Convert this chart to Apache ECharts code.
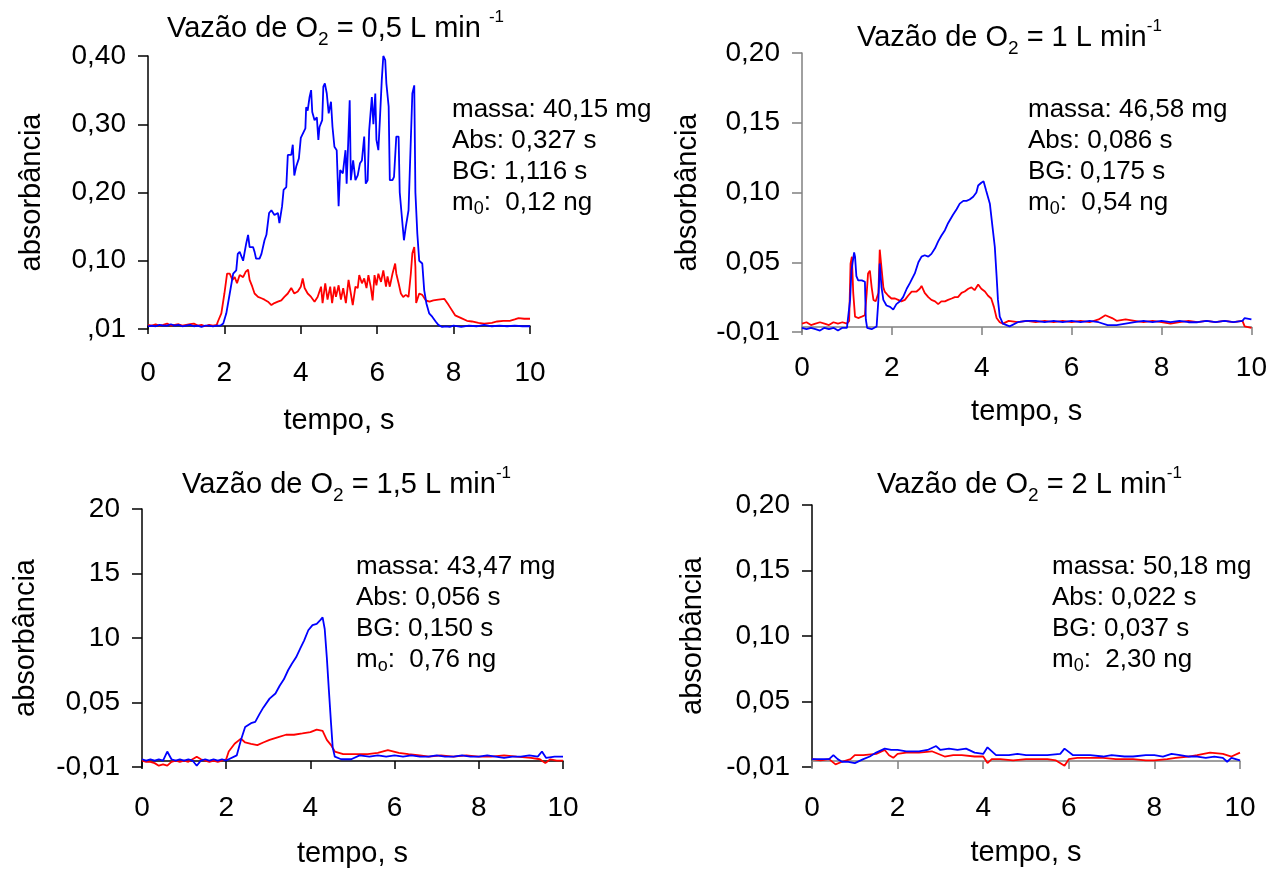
<!DOCTYPE html>
<html><head><meta charset="utf-8">
<script src="https://cdn.jsdelivr.net/npm/echarts@6/dist/echarts.min.js"></script>
<style>html,body{margin:0;padding:0;background:#fff}#c{width:1270px;height:869px}</style>
</head><body><div id="c"></div>
<script>
// ---------- tick labels ----------
const xTickLabels = ['0', '2', '4', '6', '8', '10'];
const yLabels1 = [',01', '0,10', '0,20', '0,30', '0,40'];
const yLabels2 = ['-0,01', '0,05', '0,10', '0,15', '0,20'];
const yLabels3 = ['-0,01', '0,05', '10', '15', '20'];
const yLabels4 = ['-0,01', '0,05', '0,10', '0,15', '0,20'];

// ---------- titles / annotations ----------
const titles = [
  'Vazão de O{sub|2} = 0,5 L min {sup|-1}',
  'Vazão de O{sub|2} = 1 L min{sup|-1}',
  'Vazão de O{sub|2} = 1,5 L min{sup|-1}',
  'Vazão de O{sub|2} = 2 L min{sup|-1}'
];
const info1 = ['massa: 40,15 mg', 'Abs: 0,327 s', 'BG: 1,116 s', 'm{sub|0}:  0,12 ng'];
const info2 = ['massa: 46,58 mg', 'Abs: 0,086 s', 'BG: 0,175 s', 'm{sub|0}:  0,54 ng'];
const info3 = ['massa: 43,47 mg', 'Abs: 0,056 s', 'BG: 0,150 s', 'm{sub|o}:  0,76 ng'];
const info4 = ['massa: 50,18 mg', 'Abs: 0,022 s', 'BG: 0,037 s', 'm{sub|0}:  2,30 ng'];

// ---------- panel 1 (0,5 L/min) ----------
const p1BlueT = [0,0.1,0.2,0.3,0.4,0.5,0.6,0.7,0.8,0.9,1.0,1.1,1.2,1.3,1.4,1.5,1.6,1.7,1.8,1.9,
  1.97,2.05,2.14,2.23,2.31,2.35,2.4,2.49,2.57,2.62,2.66,2.75,2.79,2.83,2.92,2.97,3.05,3.1,3.17,3.23,
  3.31,3.4,3.44,3.51,3.55,3.62,3.66,3.75,3.79,3.83,3.88,3.95,4.0,4.05,4.12,4.14,4.18,4.23,4.27,4.3,
  4.36,4.42,4.46,4.49,4.56,4.59,4.63,4.68,4.73,4.79,4.83,4.88,4.94,4.99,5.03,5.1,5.17,5.2,5.24,5.28,
  5.31,5.37,5.43,5.49,5.55,5.6,5.66,5.7,5.75,5.79,5.86,5.9,5.95,5.98,6.03,6.07,6.12,6.16,6.21,6.24,
  6.3,6.33,6.4,6.44,6.5,6.56,6.59,6.66,6.7,6.75,6.82,6.88,6.92,6.97,7.0,7.05,7.1,7.18,7.23,7.29,
  7.36,7.44,7.53,7.6,7.7,7.8,7.9,8.0,8.2,8.4,8.6,8.8,9.0,9.2,9.4,9.6,9.8,10];
const p1BlueV = [0.004,0.005,0.004,0.006,0.005,0.005,0.007,0.005,0.006,0.004,0.005,0.006,0.004,0.005,0.003,0.005,0.005,0.004,0.005,0.005,
  0.008,0.023,0.052,0.081,0.086,0.11,0.113,0.10,0.125,0.138,0.12,0.12,0.113,0.103,0.103,0.11,0.13,0.138,0.17,0.174,
  0.167,0.17,0.155,0.18,0.204,0.208,0.255,0.255,0.27,0.225,0.238,0.25,0.28,0.282,0.294,0.325,0.32,0.34,0.35,0.318,
  0.306,0.31,0.277,0.296,0.306,0.355,0.36,0.345,0.316,0.333,0.296,0.267,0.262,0.18,0.233,0.228,0.262,0.213,0.272,0.335,
  0.218,0.247,0.218,0.225,0.243,0.247,0.282,0.213,0.218,0.291,0.34,0.30,0.345,0.277,0.262,0.306,0.365,0.40,0.394,0.36,
  0.326,0.218,0.218,0.223,0.282,0.282,0.20,0.155,0.13,0.15,0.174,0.277,0.345,0.357,0.20,0.14,0.10,0.096,0.057,0.037,
  0.023,0.018,0.011,0.006,0.003,0.004,0.003,0.005,0.003,0.005,0.004,0.006,0.004,0.005,0.004,0.005,0.004,0.004];
const p1RedT = [0,0.1,0.2,0.3,0.4,0.5,0.6,0.7,0.8,0.9,1.0,1.1,1.2,1.3,1.4,1.5,1.6,1.7,1.8,
  1.83,1.92,2.0,2.07,2.14,2.21,2.27,2.33,2.4,2.49,2.56,2.62,2.66,2.73,2.79,2.88,2.97,3.05,3.14,3.23,
  3.31,3.4,3.49,3.57,3.66,3.75,3.83,3.92,4.0,4.05,4.1,4.18,4.27,4.36,4.44,4.53,4.57,4.64,4.7,4.77,
  4.82,4.88,4.92,4.99,5.05,5.11,5.18,5.25,5.31,5.36,5.43,5.49,5.53,5.6,5.66,5.72,5.77,5.83,5.88,5.93,
  5.98,6.03,6.1,6.16,6.23,6.27,6.33,6.4,6.47,6.5,6.56,6.62,6.68,6.75,6.82,6.88,6.92,6.97,7.0,7.02,
  7.1,7.18,7.27,7.37,7.47,7.6,7.76,7.87,8.04,8.2,8.35,8.48,8.65,8.8,9.0,9.14,9.3,9.47,9.6,9.7,9.85,10];
const p1RedV = [0.006,0.005,0.007,0.005,0.006,0.008,0.005,0.006,0.007,0.005,0.006,0.007,0.008,0.005,0.006,0.004,0.006,0.005,0.006,
  0.011,0.023,0.052,0.081,0.081,0.072,0.076,0.067,0.079,0.076,0.084,0.087,0.072,0.062,0.052,0.047,0.045,0.043,0.04,0.035,
  0.038,0.04,0.042,0.047,0.052,0.06,0.052,0.055,0.062,0.074,0.06,0.052,0.047,0.04,0.047,0.062,0.038,0.067,0.043,0.062,
  0.038,0.062,0.047,0.064,0.043,0.06,0.038,0.072,0.052,0.035,0.062,0.06,0.079,0.067,0.074,0.06,0.079,0.062,0.042,0.079,
  0.064,0.081,0.069,0.086,0.062,0.077,0.062,0.081,0.096,0.081,0.067,0.052,0.047,0.05,0.047,0.081,0.111,0.12,0.091,0.038,
  0.052,0.05,0.042,0.04,0.042,0.043,0.044,0.035,0.02,0.016,0.012,0.011,0.009,0.008,0.009,0.011,0.012,0.012,0.014,0.016,0.015,0.015];

// ---------- panel 2 (1 L/min) ----------
const p2BlueT = [0,0.1,0.2,0.3,0.4,0.5,0.6,0.7,0.8,0.9,1.0,
  1.03,1.07,1.1,1.16,1.18,1.21,1.25,1.33,1.4,1.42,1.45,1.55,1.66,1.7,1.73,1.77,1.81,1.88,1.96,
  2.03,2.1,2.18,2.25,2.33,2.4,2.51,2.59,2.66,2.73,2.81,2.88,2.96,3.03,3.1,3.18,3.25,3.36,3.44,3.51,
  3.59,3.66,3.73,3.81,3.88,3.92,3.99,4.04,4.1,4.18,4.24,4.29,4.33,4.36,4.4,4.47,4.62,4.8,5.0,5.2,
  5.4,5.6,5.8,6.0,6.2,6.4,6.6,6.8,7.0,7.2,7.4,7.6,7.8,8.0,8.2,8.4,8.6,8.8,9.0,9.2,9.4,9.6,9.8,9.85,10];
const p2BlueV = [0.003,0.002,0.003,0.002,0.001,0.003,0.002,0.003,0.001,0.003,0.003,
  0.003,0.023,0.044,0.057,0.054,0.04,0.037,0.037,0.036,0.009,0.003,0.002,0.004,0.023,0.049,0.032,0.023,0.019,0.018,
  0.016,0.02,0.022,0.025,0.031,0.035,0.042,0.05,0.054,0.055,0.054,0.056,0.06,0.065,0.069,0.073,0.078,0.084,0.088,0.092,
  0.094,0.094,0.095,0.097,0.10,0.105,0.107,0.108,0.101,0.092,0.075,0.061,0.04,0.023,0.011,0.006,0.004,0.007,0.008,0.008,
  0.007,0.008,0.007,0.008,0.007,0.008,0.007,0.005,0.005,0.006,0.007,0.008,0.007,0.008,0.007,0.008,0.007,0.007,0.008,0.007,0.008,0.007,0.008,0.01,0.009];
const p2RedT = [0,0.1,0.2,0.3,0.4,0.5,0.6,0.7,0.8,0.9,1.0,
  1.05,1.08,1.11,1.14,1.18,1.25,1.33,1.4,1.44,1.47,1.51,1.55,1.59,1.64,1.7,1.73,1.77,1.81,1.84,
  1.92,1.99,2.07,2.14,2.21,2.29,2.36,2.44,2.55,2.62,2.66,2.73,2.81,2.88,2.96,3.03,3.1,3.18,3.25,3.33,
  3.4,3.47,3.55,3.62,3.7,3.77,3.84,3.92,3.99,4.07,4.14,4.21,4.27,4.33,4.4,4.47,4.6,4.8,5.0,5.2,
  5.4,5.6,5.8,6.0,6.2,6.4,6.6,6.75,6.9,7.0,7.2,7.4,7.6,7.8,8.0,8.2,8.4,8.6,8.8,9.0,9.2,9.4,9.6,9.8,9.85,10];
const p2RedV = [0.006,0.007,0.005,0.006,0.007,0.006,0.005,0.007,0.006,0.007,0.006,
  0.008,0.049,0.054,0.028,0.011,0.01,0.011,0.012,0.028,0.042,0.044,0.032,0.023,0.022,0.028,0.059,0.06,0.032,0.029,
  0.026,0.024,0.024,0.023,0.022,0.023,0.026,0.029,0.029,0.031,0.033,0.028,0.025,0.023,0.022,0.02,0.022,0.022,0.023,0.024,
  0.025,0.025,0.028,0.029,0.031,0.032,0.03,0.034,0.031,0.029,0.026,0.024,0.018,0.01,0.007,0.006,0.008,0.007,0.008,0.007,
  0.008,0.007,0.008,0.007,0.008,0.007,0.009,0.012,0.01,0.008,0.009,0.008,0.007,0.008,0.007,0.006,0.007,0.008,0.007,0.008,0.007,0.008,0.007,0.008,0.004,0.003];

// ---------- panel 3 (1,5 L/min) ----------
const p3BlueT = [0,0.1,0.2,0.3,0.4,0.5,0.6,0.7,0.8,0.9,1.0,1.1,1.2,1.3,1.4,1.5,1.6,1.7,1.8,1.9,2.0,
  2.25,2.35,2.45,2.59,2.69,2.79,2.88,3.03,3.17,3.27,3.37,3.47,3.56,3.66,3.76,3.85,3.95,4.05,4.15,4.24,
  4.29,4.34,4.39,4.44,4.49,4.53,4.58,4.73,4.97,5.17,5.4,5.6,5.8,6.0,6.2,6.4,6.6,6.8,7.0,7.2,
  7.4,7.6,7.8,8.0,8.2,8.4,8.6,8.8,9.0,9.2,9.4,9.5,9.6,9.8,10];
const p3BlueV = [0.006,0.005,0.006,0.005,0.006,0.005,0.012,0.006,0.005,0.006,0.005,0.006,0.005,0.001,0.005,0.006,0.005,0.006,0.005,0.006,0.005,
  0.009,0.021,0.031,0.034,0.035,0.041,0.046,0.053,0.057,0.063,0.068,0.075,0.08,0.085,0.092,0.098,0.106,0.11,0.111,0.114,
  0.116,0.107,0.085,0.059,0.034,0.015,0.008,0.006,0.006,0.009,0.008,0.009,0.008,0.009,0.008,0.009,0.008,0.008,0.009,0.008,
  0.008,0.009,0.008,0.008,0.009,0.008,0.007,0.008,0.008,0.009,0.008,0.012,0.007,0.008,0.008];
const p3RedT = [0,0.1,0.2,0.3,0.4,0.5,0.6,0.7,0.8,0.9,1.0,1.1,1.2,1.3,1.4,1.5,1.6,1.7,1.8,1.9,2.0,
  2.06,2.2,2.35,2.45,2.59,2.74,2.88,3.03,3.22,3.42,3.61,3.81,4.0,4.15,4.29,4.39,4.49,4.58,4.78,5.07,
  5.36,5.6,5.84,6.1,6.33,6.6,6.82,7.1,7.4,7.7,8.0,8.3,8.6,8.9,9.24,9.45,9.58,9.7,9.85,10];
const p3RedV = [0.005,0.004,0.004,0.003,0.001,0.002,0.001,0.004,0.005,0.004,0.005,0.004,0.006,0.008,0.006,0.005,0.004,0.005,0.004,0.005,0.006,
  0.012,0.018,0.022,0.019,0.018,0.017,0.019,0.021,0.023,0.025,0.025,0.026,0.027,0.029,0.028,0.021,0.017,0.012,0.01,0.01,
  0.01,0.011,0.013,0.011,0.01,0.009,0.008,0.009,0.008,0.009,0.008,0.008,0.009,0.008,0.007,0.006,0.003,0.006,0.005,0.005];

// ---------- panel 4 (2 L/min) ----------
const p4BlueT = [0,0.2,0.4,0.5,0.6,0.7,0.85,1.0,1.2,1.35,1.5,1.7,1.85,2.0,2.2,2.5,2.7,2.9,3.0,3.2,3.4,3.6,3.8,4.0,4.1,4.3,
  4.6,4.8,5.0,5.3,5.5,5.8,5.9,6.1,6.3,6.5,6.8,7.0,7.3,7.5,7.8,8.0,8.2,8.4,8.6,8.8,9.0,9.2,9.4,9.6,9.7,9.8,10];
const p4BlueV = [0.006,0.006,0.006,0.009,0.006,0.004,0.004,0.003,0.006,0.008,0.011,0.014,0.013,0.013,0.012,0.012,0.013,0.016,0.013,0.014,0.013,0.014,0.011,0.01,0.015,0.009,
  0.009,0.01,0.009,0.009,0.009,0.01,0.014,0.009,0.009,0.009,0.008,0.009,0.008,0.008,0.009,0.009,0.008,0.01,0.009,0.008,0.008,0.007,0.008,0.007,0.004,0.007,0.005];
const p4RedT = [0,0.2,0.4,0.55,0.7,0.9,1.0,1.2,1.5,1.7,1.8,1.9,2.0,2.2,2.5,2.8,3.1,3.3,3.5,3.8,4.0,4.1,4.2,4.4,4.7,
  5.0,5.3,5.5,5.7,5.9,6.0,6.2,6.5,6.8,7.1,7.5,7.8,8.0,8.3,8.5,8.8,9.0,9.3,9.6,9.8,10];
const p4RedV = [0.006,0.005,0.006,0.002,0.004,0.006,0.009,0.009,0.01,0.013,0.009,0.007,0.01,0.011,0.011,0.012,0.008,0.009,0.009,0.008,0.008,0.003,0.006,0.006,0.005,
  0.006,0.006,0.006,0.005,0.001,0.006,0.007,0.007,0.007,0.006,0.006,0.005,0.005,0.006,0.007,0.008,0.009,0.011,0.01,0.008,0.011];

// ---------- build chart ----------
const FONT = '"Liberation Sans", Arial, sans-serif';
const BLUE = '#0000ff', RED = '#ff0000';

const grids = [
  {left: 148, top: 56, width: 382, height: 273},
  {left: 802, top: 53, width: 450, height: 279},
  {left: 142, top: 509, width: 421, height: 258},
  {left: 812, top: 505, width: 428, height: 262}
];
const yCfg = [
  {max: 0.4, interval: 0.1, labels: yLabels1, color: '#000', gap: 102},
  {max: 0.2, interval: 0.05, labels: yLabels2, color: '#808080', gap: 100},
  {max: 0.2, interval: 0.05, labels: yLabels3, color: '#000', gap: 102},
  {max: 0.2, interval: 0.05, labels: yLabels4, color: '#000', gap: 105}
];
const xCfg = [
  {offset: -3, color: '#000', margin: 33, nameGap: 80},
  {offset: -5, color: '#808080', margin: 27, nameGap: 70},
  {offset: -6, color: '#000', margin: 33, nameGap: 78},
  {offset: -6, color: '#808080', margin: 33, nameGap: 77}
];
const titlePos = [
  {left: 167, top: 9}, {left: 857, top: 18}, {left: 182, top: 465}, {left: 877, top: 465}
];
const infoPos = [
  {left: 452, top: 94}, {left: 1028, top: 94}, {left: 356, top: 551}, {left: 1052, top: 551}
];
const infos = [info1, info2, info3, info4];

function zip(t, v) { return t.map((x, i) => [x, v[i]]); }

const titleComps = [];
titles.forEach((txt, i) => {
  titleComps.push({
    text: txt, left: titlePos[i].left, top: titlePos[i].top, padding: 0,
    textStyle: {
      fontFamily: FONT, fontSize: 29, fontWeight: 'normal', color: '#000', lineHeight: 40,
      rich: {
        sub: {fontFamily: FONT, fontSize: 19, lineHeight: 21, verticalAlign: 'bottom', color: '#000'},
        sup: {fontFamily: FONT, fontSize: 17, lineHeight: 18, verticalAlign: 'top', color: '#000'}
      }
    }
  });
});
infos.forEach((lines, i) => {
  titleComps.push({
    text: lines.join('\n'), left: infoPos[i].left, top: infoPos[i].top, padding: 0,
    textStyle: {
      fontFamily: FONT, fontSize: 26, fontWeight: 'normal', color: '#000', lineHeight: 31,
      rich: {
        sub: {fontFamily: FONT, fontSize: 18, lineHeight: 20, verticalAlign: 'bottom', color: '#000'}
      }
    }
  });
});

const xAxes = xCfg.map((c, i) => ({
  type: 'value', gridIndex: i, min: 0, max: 10, interval: 2, offset: c.offset,
  name: 'tempo, s', nameLocation: 'middle', nameGap: c.nameGap,
  nameTextStyle: {fontFamily: FONT, fontSize: 29, color: '#000'},
  axisLine: {show: true, onZero: false, lineStyle: {color: c.color, width: 1.5}},
  axisTick: {show: true, length: 8, lineStyle: {color: c.color, width: 1.5}},
  axisLabel: {fontFamily: FONT, fontSize: 28, color: '#000', margin: c.margin,
    formatter: v => xTickLabels[Math.round(v / 2)]},
  splitLine: {show: false}
}));
const yAxes = yCfg.map((c, i) => ({
  type: 'value', gridIndex: i, min: 0, max: c.max, interval: c.interval,
  name: 'absorbância', nameLocation: 'middle', nameGap: c.gap, nameRotate: 90,
  nameTextStyle: {fontFamily: FONT, fontSize: 29, color: '#000'},
  axisLine: {show: true, lineStyle: {color: c.color, width: 1.5}},
  axisTick: {show: true, length: 10, lineStyle: {color: c.color, width: 1.5}},
  axisLabel: {fontFamily: FONT, fontSize: 28, color: '#000', margin: 22,
    formatter: v => c.labels[Math.round(v / c.interval)]},
  splitLine: {show: false}
}));

const seriesDefs = [
  [0, RED, p1RedT, p1RedV], [0, BLUE, p1BlueT, p1BlueV],
  [1, RED, p2RedT, p2RedV], [1, BLUE, p2BlueT, p2BlueV],
  [2, RED, p3RedT, p3RedV], [2, BLUE, p3BlueT, p3BlueV],
  [3, RED, p4RedT, p4RedV], [3, BLUE, p4BlueT, p4BlueV]
];
const series = seriesDefs.map(([g, col, t, v]) => ({
  type: 'line', xAxisIndex: g, yAxisIndex: g, data: zip(t, v),
  showSymbol: false, symbol: 'none', clip: false,
  lineStyle: {color: col, width: 1.8}, itemStyle: {color: col}
}));

const chart = echarts.init(document.getElementById('c'), null, {renderer: 'canvas'});
chart.setOption({
  animation: false,
  backgroundColor: '#fff',
  textStyle: {fontFamily: FONT},
  title: titleComps,
  grid: grids,
  xAxis: xAxes,
  yAxis: yAxes,
  series: series
});
</script>
</body></html>
